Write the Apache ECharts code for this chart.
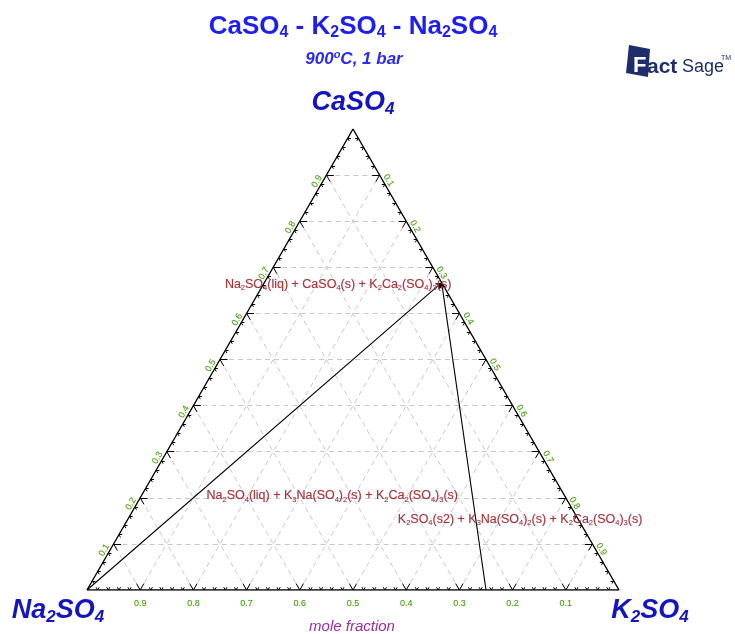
<!DOCTYPE html>
<html>
<head>
<meta charset="utf-8">
<title>CaSO4 - K2SO4 - Na2SO4</title>
<script src="https://cdn.jsdelivr.net/npm/echarts@6/dist/echarts.min.js"></script>
<style>
  html, body { margin: 0; padding: 0; background: #ffffff; }
  #chart { width: 735px; height: 634px; }
</style>
</head>
<body>
<div id="chart"></div>
<script>
// Ternary isothermal section CaSO4 - K2SO4 - Na2SO4 at 900 °C, 1 bar.
// Compositions are given as [x(CaSO4), x(K2SO4)]; x(Na2SO4) is the remainder.

const tickValues = [0.1, 0.2, 0.3, 0.4, 0.5, 0.6, 0.7, 0.8, 0.9];
const tickLabels = ['0.1', '0.2', '0.3', '0.4', '0.5', '0.6', '0.7', '0.8', '0.9'];
const minorStep = 0.02;

// Special compositions on the edges
const naVertex = [0, 0];               // Na2SO4
const k2ca2Point = [0.6667, 0.3333];   // K2Ca2(SO4)3
const k3naPoint = [0, 0.75];           // K3Na(SO4)2

// Three-phase tie lines
const tieLines = [
  [naVertex, k2ca2Point],
  [k3naPoint, k2ca2Point]
];

// Phase-field labels
const regionNames = [
  'Na{s|2}SO{s|4}(liq) + CaSO{s|4}(s) + K{s|2}Ca{s|2}(SO{s|4}){s|3}(s)',
  'Na{s|2}SO{s|4}(liq) + K{s|3}Na(SO{s|4}){s|2}(s) + K{s|2}Ca{s|2}(SO{s|4}){s|3}(s)',
  'K{s|2}SO{s|4}(s2) + K{s|3}Na(SO{s|4}){s|2}(s) + K{s|2}Ca{s|2}(SO{s|4}){s|3}(s)'
];

// Corner components
const cornerNames = {
  top: 'CaSO{s|4}',
  left: 'Na{s|2}SO{s|4}',
  right: 'K{s|2}SO{s|4}'
};

const FONT = '"Liberation Sans", Arial, sans-serif';

// Ternary composition -> cartesian (x, y) with y = x(CaSO4)
const P = (ca, k) => [k + ca / 2, ca];

// Triangle outline
const outline = [P(0, 0), P(0, 1), P(1, 0), P(0, 0)];

// Dashed iso-composition lines
const gridSegs = [];
tickValues.forEach(v => {
  gridSegs.push({ coords: [P(v, 0), P(v, 1 - v)] });       // constant CaSO4
  gridSegs.push({ coords: [P(0, v), P(1 - v, v)] });       // constant K2SO4
  gridSegs.push({ coords: [P(0, 1 - v), P(1 - v, 0)] });   // constant Na2SO4
});

// Edge ticks: small marks every 0.02, larger arrow marks every 0.1
const tickSegs = [];
const nSteps = Math.round(1 / minorStep);
for (let i = 1; i < nSteps; i++) {
  const t = i * minorStep;
  const d = (i % 5 === 0) ? 0.014 : 0.006;
  // bottom edge (CaSO4 = 0)
  tickSegs.push({ coords: [P(0, t), P(d, t)] });
  tickSegs.push({ coords: [P(0, t), P(d, t - d)] });
  // left edge (K2SO4 = 0)
  tickSegs.push({ coords: [P(t, 0), P(t, d)] });
  tickSegs.push({ coords: [P(t, 0), P(t - d, d)] });
  // right edge (Na2SO4 = 0)
  tickSegs.push({ coords: [P(t, 1 - t), P(t, 1 - t - d)] });
  tickSegs.push({ coords: [P(t, 1 - t), P(t - d, 1 - t)] });
}

// Tick labels along the three edges
const tickLabelData = [];
tickValues.forEach((v, i) => {
  // left edge: x(CaSO4)
  tickLabelData.push({ value: P(v, 0), label: { formatter: tickLabels[i], rotate: 60, offset: [-10, -5] } });
  // right edge: x(K2SO4)
  tickLabelData.push({ value: P(1 - v, v), label: { formatter: tickLabels[i], rotate: -60, offset: [9, -5] } });
  // bottom edge: x(Na2SO4)
  tickLabelData.push({ value: P(0, 1 - v), label: { formatter: tickLabels[i], offset: [0, 14] } });
});

const regionStyle = {
  color: '#a8352c',
  fontFamily: FONT,
  fontSize: 12.5,
  lineHeight: 15,
  textBorderColor: 'rgba(170,120,210,0.35)',
  textBorderWidth: 0.7,
  rich: { s: { fontSize: 7.5, lineHeight: 6, verticalAlign: 'bottom', color: '#a8352c', fontFamily: FONT,
               textBorderColor: 'rgba(170,120,210,0.35)', textBorderWidth: 0.5 } }
};

const cornerStyle = {
  color: '#1414c0',
  fontFamily: FONT,
  fontSize: 27,
  fontWeight: 'bold',
  fontStyle: 'italic',
  lineHeight: 30,
  rich: { s: { fontSize: 17, lineHeight: 14, verticalAlign: 'bottom', color: '#1414c0', fontWeight: 'bold', fontStyle: 'italic', fontFamily: FONT } }
};

const solid = { opacity: 1 };

const option = {
  backgroundColor: '#ffffff',
  animation: false,
  grid: { left: 87, right: 116, top: 129, bottom: 44 },
  xAxis: { type: 'value', min: 0, max: 1, show: false },
  yAxis: { type: 'value', min: 0, max: 1, show: false },
  graphic: [
    {
      type: 'text',
      style: {
        x: 353, y: 27, align: 'center', verticalAlign: 'middle',
        text: '{m|CaSO}{s|4}{m| - K}{s|2}{m|SO}{s|4}{m| - Na}{s|2}{m|SO}{s|4}',
        rich: {
          m: { fontSize: 26, fontWeight: 'bold', fontFamily: FONT, fill: '#1e1ef0', lineHeight: 28 },
          s: { fontSize: 16, fontWeight: 'bold', fontFamily: FONT, fill: '#1e1ef0', lineHeight: 13, verticalAlign: 'bottom' }
        }
      }
    },
    {
      type: 'text',
      style: {
        x: 354, y: 59, align: 'center', verticalAlign: 'middle',
        text: '{m|900}{u|o}{m|C, 1 bar}',
        rich: {
          m: { fontSize: 17, fontWeight: 'bold', fontStyle: 'italic', fontFamily: FONT, fill: '#2a2af0', lineHeight: 20 },
          u: { fontSize: 11, fontWeight: 'bold', fontStyle: 'italic', fontFamily: FONT, fill: '#2a2af0', lineHeight: 10, verticalAlign: 'top' }
        }
      }
    },
    {
      type: 'text',
      style: {
        x: 352, y: 627, align: 'center', verticalAlign: 'middle',
        text: 'mole fraction',
        font: 'italic 15px ' + FONT,
        fill: '#9a2ea8'
      }
    },
    // FactSage mark
    {
      type: 'polygon',
      shape: { points: [[629, 45], [650, 49], [648, 77], [626, 73]] },
      style: { fill: '#1f2d6b' }
    },
    {
      type: 'text',
      style: { x: 633, y: 66, verticalAlign: 'middle', text: 'F', font: 'bold 22px ' + FONT, fill: '#ffffff', stroke: '#1f2d6b', lineWidth: 1.2 }
    },
    {
      type: 'text',
      style: { x: 647, y: 67, verticalAlign: 'middle', text: 'act', font: 'bold 21px ' + FONT, fill: '#1f2d6b' }
    },
    {
      type: 'text',
      style: { x: 682, y: 67, verticalAlign: 'middle', text: 'Sage', font: '18px ' + FONT, fill: '#1f2d6b' }
    },
    {
      type: 'text',
      style: { x: 721, y: 58, verticalAlign: 'middle', text: 'TM', font: '7px ' + FONT, fill: '#1f2d6b' }
    }
  ],
  series: [
    {
      type: 'lines',
      coordinateSystem: 'cartesian2d',
      silent: true,
      z: 1,
      lineStyle: { color: '#c8c8c8', width: 1, type: [5, 4], opacity: 1 },
      data: gridSegs
    },
    {
      type: 'lines',
      coordinateSystem: 'cartesian2d',
      silent: true,
      z: 3,
      lineStyle: { color: '#000000', width: 1, opacity: 1 },
      data: tickSegs
    },
    {
      type: 'line',
      silent: true,
      z: 4,
      showSymbol: false,
      lineStyle: { color: '#000000', width: 1.4 },
      data: outline
    },
    {
      type: 'lines',
      coordinateSystem: 'cartesian2d',
      silent: true,
      z: 4,
      symbol: ['none', 'arrow'],
      symbolSize: 6,
      lineStyle: { color: '#000000', width: 1.1, opacity: 1 },
      data: tieLines.map(([a, b]) => ({ coords: [P(a[0], a[1]), P(b[0], b[1])] }))
    },
    {
      type: 'scatter',
      silent: true,
      z: 5,
      symbolSize: 0,
      itemStyle: solid,
      label: {
        show: true,
        position: 'inside',
        color: '#36a03a',
        fontFamily: FONT,
        fontSize: 9,
        textBorderColor: 'rgba(230,220,60,0.5)',
        textBorderWidth: 0.6
      },
      data: tickLabelData
    },
    {
      type: 'scatter',
      silent: true,
      z: 6,
      symbolSize: 0,
      itemStyle: solid,
      label: Object.assign({ show: true, position: 'inside' }, regionStyle),
      data: [
        { value: P(0.662, 0.141), label: { formatter: regionNames[0] } },
        { value: P(0.204, 0.359), label: { formatter: regionNames[1] } },
        { value: P(0.152, 0.738), label: { formatter: regionNames[2] } }
      ]
    },
    {
      type: 'scatter',
      silent: true,
      z: 6,
      symbolSize: 0,
      itemStyle: solid,
      label: Object.assign({ show: true, position: 'inside' }, cornerStyle),
      data: [
        { value: P(1, 0), label: { formatter: cornerNames.top, offset: [0, -26] } },
        { value: P(0, 0), label: { formatter: cornerNames.left, offset: [-29, 21] } },
        { value: P(0, 1), label: { formatter: cornerNames.right, offset: [31, 21] } }
      ]
    }
  ]
};

const chart = echarts.init(document.getElementById('chart'), null, { renderer: 'canvas' });
chart.setOption(option);
</script>
</body>
</html>
